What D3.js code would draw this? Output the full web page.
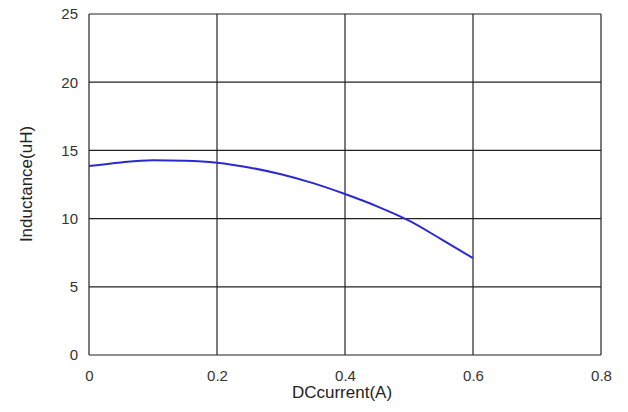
<!DOCTYPE html>
<html>
<head>
<meta charset="utf-8">
<script src="https://cdn.jsdelivr.net/npm/d3@7"></script>
<style>
  body { margin: 0; background: #fff; }
  svg text { font-family: 'Liberation Sans', Arial, sans-serif; }
</style>
</head>
<body>
<div id="chart"></div>
<script>
// data ---------------------------------------------------------------------
const currentA = [0, 0.05, 0.1, 0.15, 0.2, 0.25, 0.3, 0.35, 0.4, 0.45, 0.5, 0.55, 0.6];
const inductanceUH = [13.85, 14.12, 14.27, 14.24, 14.1, 13.75, 13.25, 12.6, 11.8, 10.9, 9.85, 8.5, 7.1];
const xTicks = [0, 0.2, 0.4, 0.6, 0.8];
const yTicks = [0, 5, 10, 15, 20, 25];
const xTitle = 'DCcurrent(A)';
const yTitle = 'Inductance(uH)';

// layout ------------------------------------------------------------------
const width = 628, height = 412;
const margin = {top: 14, right: 27, bottom: 57, left: 89};
const innerW = width - margin.left - margin.right;
const innerH = height - margin.top - margin.bottom;

const svg = d3.select('#chart').append('svg')
  .attr('width', width)
  .attr('height', height);

const g = svg.append('g')
  .attr('transform', 'translate(' + margin.left + ',' + margin.top + ')');

const x = d3.scaleLinear().domain([0, 0.8]).range([0, innerW]);
const y = d3.scaleLinear().domain([0, 25]).range([innerH, 0]);

// grid
g.append('g')
  .selectAll('line.v')
  .data(xTicks)
  .enter().append('line')
  .attr('x1', d => x(d)).attr('x2', d => x(d))
  .attr('y1', 0).attr('y2', innerH)
  .attr('stroke', '#222').attr('stroke-width', 1.2);
g.append('g')
  .selectAll('line.h')
  .data(yTicks)
  .enter().append('line')
  .attr('x1', 0).attr('x2', innerW)
  .attr('y1', d => y(d)).attr('y2', d => y(d))
  .attr('stroke', '#222').attr('stroke-width', 1.2);

// axes (labels only)
const xAxis = g.append('g')
  .attr('transform', 'translate(0,' + innerH + ')')
  .call(d3.axisBottom(x).tickValues(xTicks).tickFormat(d3.format('')).tickSize(0).tickPadding(15));
const yAxis = g.append('g')
  .call(d3.axisLeft(y).tickValues(yTicks).tickFormat(d3.format('')).tickSize(0).tickPadding(11));
[xAxis, yAxis].forEach(a => {
  a.select('.domain').remove();
  a.selectAll('text')
    .attr('font-size', '15px')
    .attr('fill', '#333')
    .style('font-family', "'Liberation Sans', Arial, sans-serif");
});

// curve
const line = d3.line()
  .x((d, i) => x(currentA[i]))
  .y(d => y(d))
  .curve(d3.curveMonotoneX);
g.append('path')
  .datum(inductanceUH)
  .attr('d', line)
  .attr('fill', 'none')
  .attr('stroke', '#2a2ad0')
  .attr('stroke-width', 2);

// titles
svg.append('text')
  .attr('x', margin.left + innerW / 2 - 3)
  .attr('y', 398)
  .attr('text-anchor', 'middle')
  .attr('font-size', '17px')
  .attr('fill', '#222')
  .text(xTitle);
svg.append('text')
  .attr('transform', 'translate(32,' + 184 + ') rotate(-90)')
  .attr('text-anchor', 'middle')
  .attr('font-size', '17px')
  .attr('fill', '#222')
  .text(yTitle);
</script>
</body>
</html>
